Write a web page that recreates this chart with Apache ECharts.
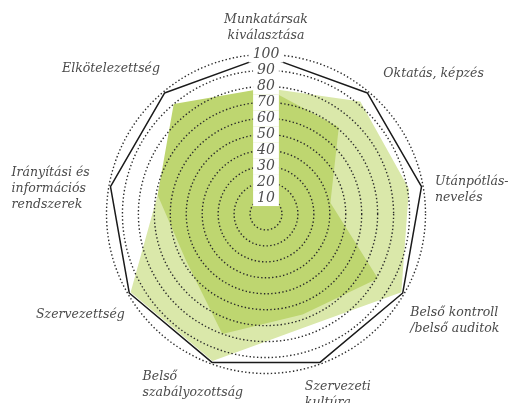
<!DOCTYPE html>
<html><head><meta charset="utf-8">
<script src="https://cdn.jsdelivr.net/npm/echarts@6/dist/echarts.min.js"></script>
<style>html,body{margin:0;padding:0;background:#fff}#c{width:517px;height:403px}</style>
</head><body><div id="c"></div>
<script>
// Indicators, counter-clockwise from the top (ECharts radar order)
const indicatorNames = [
  'Munkatársak\nkiválasztása',
  'Elkötelezettség',
  'Irányítási és\ninformációs\nrendszerek',
  'Szervezettség',
  'Belső\nszabályozottság',
  'Szervezeti\nkultúra',
  'Belső kontroll\n/belső auditok',
  'Utánpótlás-\nnevelés',
  'Oktatás, képzés'
];
const axisMax = 100;
const lightValues   = [79, 88, 69, 98, 98, 75, 98, 91, 92];
const darkValues    = [79, 90, 69, 58, 80, 67, 81, 41, 71];
const outlineValues = [99, 99, 99, 99, 99, 99, 99, 99, 99];

// name placement styles (per indicator)
const nameStyles = [
  { gap: 11 },
  { gap: 5.5, align: 'right', verticalAlign: 'bottom', padding: [0, 0, 10.5, 0] },
  { gap: 12.5, align: 'left', verticalAlign: 'top', padding: [-19, 0, 0, -85] },
  { gap: 3.5, align: 'right', verticalAlign: 'top', padding: [11, 0, 0, 0] },
  { gap: 5.5, align: 'left', verticalAlign: 'top', padding: [0, 0, 0, -67] },
  { gap: 15.5, align: 'left', verticalAlign: 'top', padding: [0, 0, 0, -21] },
  { gap: 7, align: 'left', verticalAlign: 'top', padding: [7, 0, 0, 0] },
  { gap: 12, align: 'left', verticalAlign: 'top', padding: [-10, 0, 0, 0] },
  { gap: 23 }
];

const indicator = indicatorNames.map((name, i) => {
  const s = nameStyles[i];
  const ind = { name: name, min: 0, max: axisMax, nameGap: s.gap };
  const ts = {};
  if (s.align) ts.align = s.align;
  if (s.verticalAlign) ts.verticalAlign = s.verticalAlign;
  if (s.padding) ts.padding = s.padding;
  ind.nameTextStyle = ts;
  if (i === 0) {
    ind.axisLabel = {
      show: true,
      margin: 0,
      align: 'center',
      verticalAlign: 'middle',
      fontFamily: 'DejaVu Serif',
      fontStyle: 'italic',
      fontSize: 14,
      color: '#4d4d4d',
      backgroundColor: '#fff',
      lineHeight: 16,
      padding: [0, 4],
      formatter: v => (v === 0 ? '' : String(v))
    };
  }
  return ind;
});

const chart = echarts.init(document.getElementById('c'), null, { renderer: 'canvas' });
chart.setOption({
  animation: false,
  radar: {
    z: 5,
    center: [266, 214],
    radius: 159.5,
    startAngle: 90,
    shape: 'circle',
    splitNumber: 10,
    indicator: indicator,
    axisName: {
      color: '#4a4a4a',
      fontFamily: 'DejaVu Serif',
      fontStyle: 'italic',
      fontSize: 12.5,
      lineHeight: 16
    },
    axisLine: { show: false },
    axisTick: { show: false },
    axisLabel: { show: false },
    splitArea: { show: false },
    splitLine: { lineStyle: { color: '#2a2a2a', width: 1.4, type: [1.4, 2.3] } }
  },
  series: [
    {
      type: 'radar', symbol: 'none', z: 1,
      lineStyle: { width: 0 },
      areaStyle: { color: '#dae8aa', opacity: 1 },
      data: [{ value: lightValues }]
    },
    {
      type: 'radar', symbol: 'none', z: 1,
      lineStyle: { width: 0 },
      areaStyle: { color: '#bed670', opacity: 1 },
      data: [{ value: darkValues }]
    },
    {
      type: 'radar', symbol: 'none', z: 1,
      lineStyle: { width: 1.5, color: '#1a1a1a' },
      data: [{ value: outlineValues }]
    }
  ]
});
</script>
</body></html>
